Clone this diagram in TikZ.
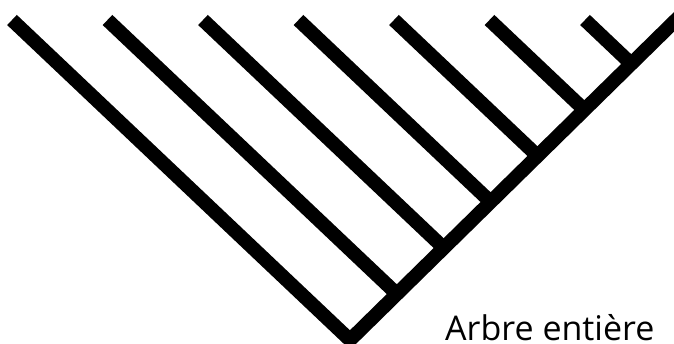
\documentclass[tikz,border=0pt]{standalone}
\usepackage{fontspec}
\setsansfont{Open Sans}
\usetikzlibrary{calc}
\tikzset{
  every picture/.style={font=\sffamily},
  branch/.style={draw=black, line width=14pt, line cap=butt, line join=miter},
  caption/.style={font=\sffamily\fontsize{34}{38}\selectfont, anchor=base west, inner sep=0pt},
}

\begin{document}
\begin{tikzpicture}[x=1pt, y=1pt]
  \useasboundingbox (0,0) rectangle (674,344);
  % root and the spine going up to the right
  \coordinate (root) at (350,4);
  \coordinate (top) at (681,329);
  % leaves along the top, joints along the spine
  \foreach \k in {0,...,6} \coordinate (leaf\k) at (12+95.5*\k,324);
  \foreach \k in {1,...,6} \coordinate (j\k) at (350+46.9*\k,4+46*\k);
  \draw[branch] (leaf0) -- (root) -- (top);
  \foreach \k in {1,...,6} \draw[branch] (leaf\k) -- (j\k);
  \node[caption] (label) at (445,3) {Arbre entière};
\end{tikzpicture}
\end{document}
